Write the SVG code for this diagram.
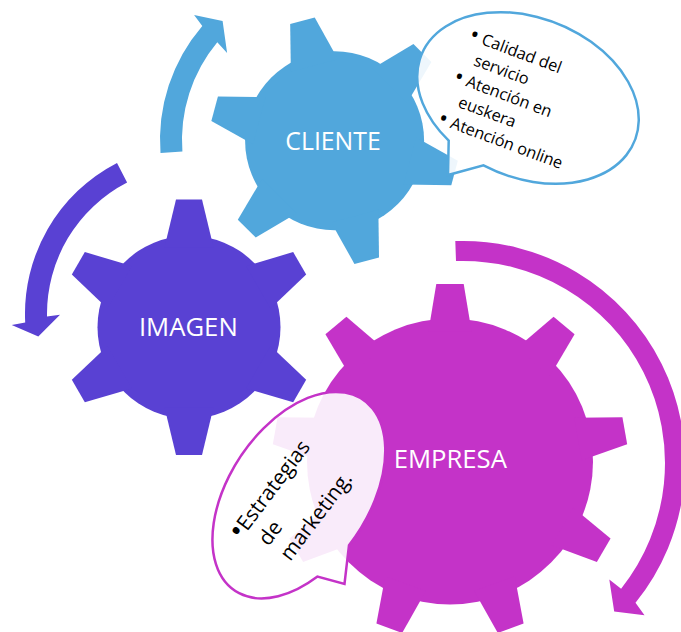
<svg xmlns="http://www.w3.org/2000/svg" xmlns:xlink="http://www.w3.org/1999/xlink" width="681" height="632" viewBox="0 0 681 632">
  <style>
    .label { font-family: "Open Sans", "Noto Sans", sans-serif; font-size: 25.7px; fill: #ffffff; text-anchor: middle; }
    .note { font-family: "Open Sans", "Noto Sans", sans-serif; fill: #000000; }
    .bullet { text-anchor: middle; font-size: 1.45em; }
    .bubble { fill: #ffffff; fill-opacity: 0.9; stroke-width: 2.5; stroke-linejoin: miter; }
  </style>
  <defs>
    <!-- tooth profiles, pointing up from the gear centre -->
    <path id="tooth-imagen" d="M-24.5,-80 L-13,-127.8 L13,-127.8 L24.5,-80 Z"/>
    <path id="tooth-cliente" d="M-24.4,-78 L-12.7,-124.2 L12.7,-124.2 L24.4,-78 Z"/>
    <path id="tooth-empresa" d="M-21.6,-130 L-13.7,-177.5 L13.7,-177.5 L21.6,-130 Z"/>
  </defs>

  <rect width="681" height="632" fill="#ffffff"/>

  <!-- curved arrows around the gears -->
  <g id="connectors">
    <path id="arrow-cliente" fill="#51A7DC" d="M182.4,151.5 A153,153 0 0 1 217.3,42.3 L227.1,52.9 L222.6,20.9 L194.1,14.9 L202.3,25.9 A175,175 0 0 0 160.5,153.1 Z"/>
    <path id="arrow-imagen" fill="#5941D3" d="M117,162.9 A170,170 0 0 0 25.2,322.6 L11.7,324.9 L38.3,336.6 L60,314.7 L47,316.6 A148,148 0 0 1 127.1,182.5 Z"/>
    <path id="arrow-empresa" fill="#C433C8" d="M455.3,241.1 A222,222 0 0 1 635.5,602.7 L644.5,615.3 L614.2,611.6 L609.3,579.4 L621.1,588.7 A202,202 0 0 0 456,261.1 Z"/>
  </g>

  <!-- CLIENTE gear -->
  <g id="gear-cliente" transform="translate(334.6,140.8)" fill="#51A7DC">
    <circle r="89.5"/>
    <use xlink:href="#tooth-cliente" transform="rotate(-15)"/>
    <use xlink:href="#tooth-cliente" transform="rotate(45)"/>
    <use xlink:href="#tooth-cliente" transform="rotate(105)"/>
    <use xlink:href="#tooth-cliente" transform="rotate(165)"/>
    <use xlink:href="#tooth-cliente" transform="rotate(225)"/>
    <use xlink:href="#tooth-cliente" transform="rotate(285)"/>
    <text class="label" x="-1.6" y="9.2" style="font-size:24.8px">CLIENTE</text>
  </g>

  <!-- IMAGEN gear -->
  <g id="gear-imagen" transform="translate(189,327.2)" fill="#5941D3">
    <circle r="91.5"/>
    <use xlink:href="#tooth-imagen"/>
    <use xlink:href="#tooth-imagen" transform="rotate(60)"/>
    <use xlink:href="#tooth-imagen" transform="rotate(120)"/>
    <use xlink:href="#tooth-imagen" transform="rotate(180)"/>
    <use xlink:href="#tooth-imagen" transform="rotate(240)"/>
    <use xlink:href="#tooth-imagen" transform="rotate(300)"/>
    <text class="label" x="-0.7" y="8.8">IMAGEN</text>
  </g>

  <!-- EMPRESA gear -->
  <g id="gear-empresa" transform="translate(450,461.5)" fill="#C433C8">
    <circle r="143"/>
    <use xlink:href="#tooth-empresa"/>
    <use xlink:href="#tooth-empresa" transform="rotate(40)"/>
    <use xlink:href="#tooth-empresa" transform="rotate(80)"/>
    <use xlink:href="#tooth-empresa" transform="rotate(120)"/>
    <use xlink:href="#tooth-empresa" transform="rotate(160)"/>
    <use xlink:href="#tooth-empresa" transform="rotate(200)"/>
    <use xlink:href="#tooth-empresa" transform="rotate(240)"/>
    <use xlink:href="#tooth-empresa" transform="rotate(280)"/>
    <use xlink:href="#tooth-empresa" transform="rotate(320)"/>
    <text class="label" x="0.3" y="6.2">EMPRESA</text>
  </g>

  <!-- callout attached to CLIENTE -->
  <g id="callout-cliente">
    <path class="bubble" stroke="#51A7DC" d="M483.5,165.4 A115,80 22 1 0 448.7,140.6 L448,175 Z"/>
    <g class="note" font-size="16.3" transform="translate(480.5,44) rotate(20.5)">
      <text class="bullet" x="-8.5" y="1.5">•</text>
      <text x="0" y="0">Calidad del</text>
      <text x="0" y="22.3">servicio</text>
      <text class="bullet" x="-8.5" y="46.1">•</text>
      <text x="0" y="44.6">Atención en</text>
      <text x="0" y="66.9">euskera</text>
      <text class="bullet" x="-8.5" y="90.7">•</text>
      <text x="0" y="89.2">Atención online</text>
    </g>
  </g>

  <!-- callout attached to EMPRESA -->
  <g id="callout-empresa">
    <path class="bubble" stroke="#C433C8" d="M349,545.2 A115,70 -56.25 1 0 317.5,576.5 L344.5,584 Z"/>
    <g class="note" font-size="20.9" transform="translate(247,532) rotate(-53)">
      <text class="bullet" x="-5.5" y="1.5">•</text>
      <text x="0" y="0">Estrategias</text>
      <text x="1" y="26.3">de</text>
      <text x="2" y="52.6">marketing.</text>
    </g>
  </g>
</svg>
